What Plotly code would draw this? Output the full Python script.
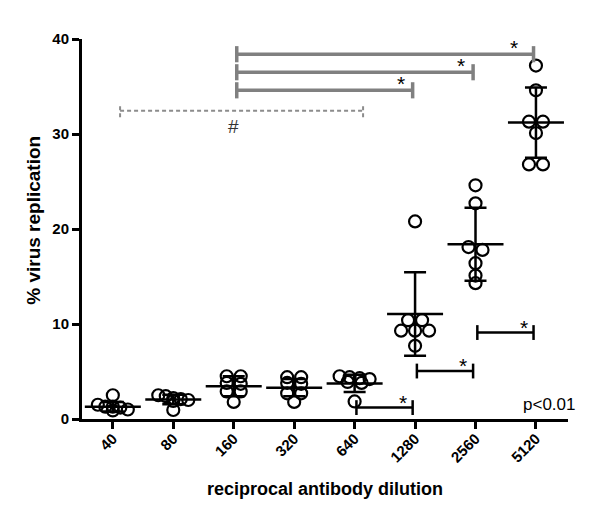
import plotly.graph_objects as go

# ---------------- data ----------------
categories = ["40", "80", "160", "320", "640", "1280", "2560", "5120"]
values = [
    [2.5, 1.5, 1.3, 1.3, 1.2, 1.0, 0.9],
    [2.5, 2.4, 2.2, 2.1, 2.0, 1.9, 0.95],
    [4.5, 4.5, 3.8, 3.7, 2.9, 2.9, 1.8],
    [4.4, 4.4, 3.8, 3.7, 2.7, 2.7, 1.8],
    [4.5, 4.4, 4.3, 4.2, 3.9, 3.8, 1.85],
    [20.8, 10.4, 10.4, 9.3, 9.3, 9.3, 7.7],
    [24.6, 22.7, 18.1, 17.8, 16.4, 15.1, 14.3],
    [37.2, 34.6, 31.3, 31.3, 30.1, 26.8, 26.8],
]
means = [1.3, 2.05, 3.45, 3.3, 3.75, 11.05, 18.4, 31.2]
sds = [0.5, 0.5, 1.05, 0.9, 0.9, 4.4, 3.85, 3.7]

# significance comparisons: (from category, to category, level)
black_from = ["640", "1280", "2560"]
black_to = ["1280", "2560", "5120"]
black_level = [1.2, 5.05, 9.1]
grey_from = ["160", "160", "160"]
grey_to = ["5120", "2560", "1280"]
grey_level = [38.4, 36.5, 34.6]
dash_from = "40"
dash_to = "640"
dash_level = 32.45
sig_text = "*"
dash_text = "#"
p_text = "p<0.01"
x_title = "reciprocal antibody dilution"
y_title = "% virus replication"

# ---------------- layout geometry ----------------
# page body has an 8px default margin, so the figure is sized to fit the window
W, H = 592, 509
ML, MR, MT, MB = 74, 32, 31, 98
XR = [-0.51, 7.53]
YR = [0, 40]
px_per_cat = (W - ML - MR) / (XR[1] - XR[0])
px_per_unit = (H - MT - MB) / (YR[1] - YR[0])

FONT = "Liberation Sans, Arial, sans-serif"
idx = {c: i for i, c in enumerate(categories)}


def swarm(vals):
    """Simple row-based scatter spreading (Prism-like)."""
    order = sorted(range(len(vals)), key=lambda k: -vals[k])
    rows, cur = [], []
    for k in order:
        if cur and (vals[cur[0]] - vals[k]) * px_per_unit > 5.5:
            rows.append(cur)
            cur = []
        cur.append(k)
    rows.append(cur)
    offs = [0.0] * len(vals)
    for r in rows:
        n = len(r)
        if n == 1:
            continue
        step = min(14.0, 30.0 / (n - 1))
        for j, k in enumerate(r):
            offs[k] = (j - (n - 1) / 2) * step / px_per_cat
    return offs


fig = go.Figure()

# points
for i, vals in enumerate(values):
    offs = swarm(vals)
    fig.add_trace(go.Scatter(
        x=[i + o for o in offs], y=vals, mode="markers",
        marker=dict(symbol="circle-open", size=12, color="black",
                    line=dict(width=2.2, color="black")),
        showlegend=False, hoverinfo="skip"))

# mean + SD
fig.add_trace(go.Scatter(
    x=list(range(len(categories))), y=means, mode="markers",
    marker=dict(symbol="line-ew", size=40, line=dict(width=2.5, color="black")),
    error_y=dict(type="data", array=sds, visible=True, color="black",
                 thickness=2.5, width=11),
    showlegend=False, hoverinfo="skip"))


def bracket(x0, x1, lvl, color, width, dash="solid", half=0.78):
    xs = [x0, x0, None, x0, x1, None, x1, x1]
    ys = [lvl - half, lvl + half, None, lvl, lvl, None, lvl - half, lvl + half]
    fig.add_trace(go.Scatter(x=xs, y=ys, mode="lines",
                             line=dict(color=color, width=width, dash=dash),
                             showlegend=False, hoverinfo="skip", cliponaxis=False))


annotations = []
for a, b, lvl in zip(black_from, black_to, black_level):
    x0, x1 = idx[a] + 0.03, idx[b] - 0.04
    bracket(x0, x1, lvl, "black", 2.5)
    annotations.append(dict(x=x1, y=lvl, xref="x", yref="y", text=sig_text,
                            showarrow=False, xanchor="center", yanchor="bottom",
                            xshift=-10, yshift=-8,
                            font=dict(family=FONT, size=21, color="black")))
for k, (a, b, lvl) in enumerate(zip(grey_from, grey_to, grey_level)):
    x0, x1 = idx[a] + 0.05, idx[b] - 0.04
    bracket(x0, x1, lvl, "#808080", 3.5, half=0.85)
    annotations.append(dict(x=x1, y=lvl, xref="x", yref="y", text=sig_text,
                            showarrow=False, xanchor="center", yanchor="bottom",
                            xshift=-20 if k == 0 else -12, yshift=-7,
                            font=dict(family=FONT, size=21, color="black")))
bracket(idx[dash_from] + 0.12, idx[dash_to] + 0.14, dash_level, "#8c8c8c", 2,
        dash="4px,3px", half=0.7)
annotations.append(dict(x=idx["160"], y=dash_level, xref="x", yref="y",
                        text=dash_text, showarrow=False, xanchor="center",
                        yanchor="top", yshift=-3,
                        font=dict(family=FONT, size=19, color="#333333")))
annotations.append(dict(x=1.018, y=1.5, xref="paper", yref="y", text=p_text,
                        showarrow=False, xanchor="right", yanchor="middle",
                        font=dict(family=FONT, size=17, color="black")))
# y-axis title (placed as rotated text, slightly above the plot centre as in the original)
annotations.append(dict(x=-0.099, y=0.524, xref="paper", yref="paper", text=y_title,
                        textangle=-90, showarrow=False, xanchor="center",
                        yanchor="middle",
                        font=dict(family=FONT, size=19, weight="bold", color="black")))

fig.update_layout(
    width=W, height=H,
    margin=dict(l=ML, r=MR, t=MT, b=MB),
    paper_bgcolor="white", plot_bgcolor="white",
    font=dict(family=FONT, color="black"),
    annotations=annotations,
    xaxis=dict(range=XR, tickmode="array", tickvals=list(range(len(categories))),
               ticktext=categories, tickangle=-45, showgrid=False, zeroline=False,
               showline=True, linewidth=3, linecolor="black",
               ticks="outside", ticklen=7, tickwidth=3, tickcolor="black",
               ticklabelstandoff=-5,
               tickfont=dict(family=FONT, size=15, weight="bold"),
               title=dict(text=x_title, standoff=18,
                          font=dict(family=FONT, size=18, weight="bold"))),
    yaxis=dict(range=YR, tickvals=[0, 10, 20, 30, 40], showgrid=False,
               zeroline=False, showline=True, linewidth=3, linecolor="black",
               ticks="outside", ticklen=7, tickwidth=3, tickcolor="black",
               tickfont=dict(family=FONT, size=15, weight="bold")),
)

fig.write_html("out.html")
